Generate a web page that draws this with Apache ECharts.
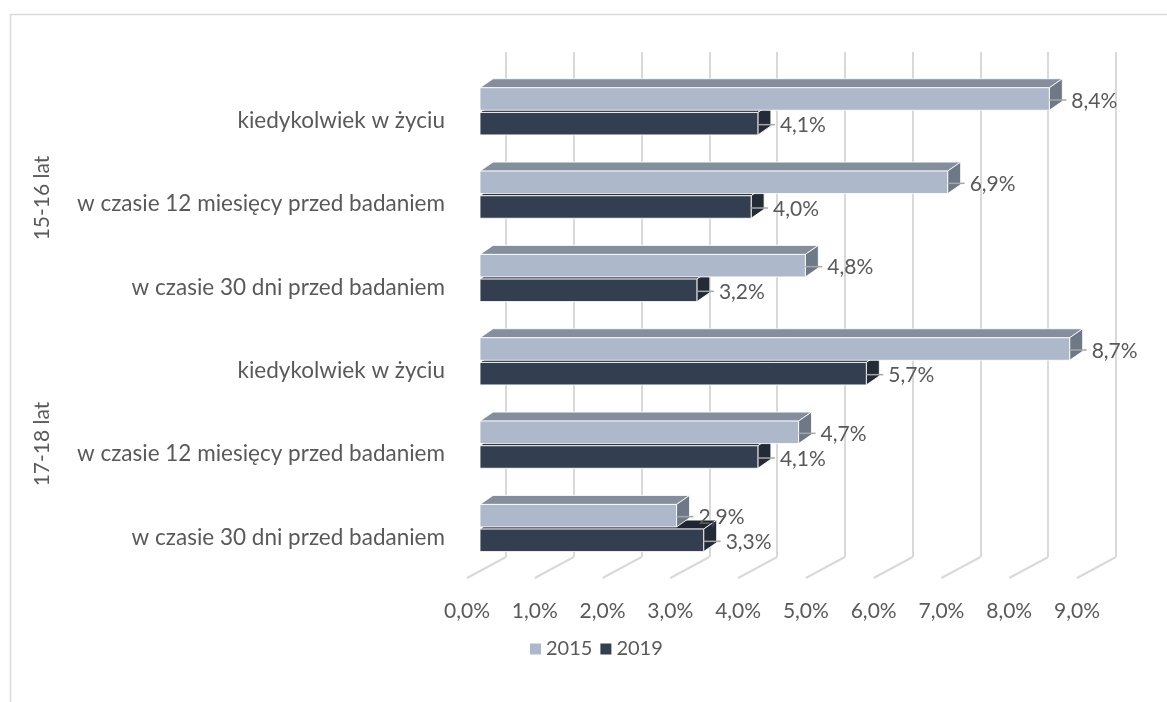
<!DOCTYPE html>
<html>
<head>
<meta charset="utf-8">
<script src="https://cdn.jsdelivr.net/npm/echarts@6/dist/echarts.min.js"></script>
<style>
html,body{margin:0;padding:0;background:#fff;}
#chart{width:1167px;height:702px;}
</style>
</head>
<body>
<div id="chart"></div>
<script>
const categories = [
  'kiedykolwiek w życiu',
  'w czasie 12 miesięcy przed badaniem',
  'w czasie 30 dni przed badaniem',
  'kiedykolwiek w życiu',
  'w czasie 12 miesięcy przed badaniem',
  'w czasie 30 dni przed badaniem'
];
const groups = ['15-16 lat', '17-18 lat'];
const seriesNames = ['2015', '2019'];
const values2015 = [8.4, 6.9, 4.8, 8.7, 4.7, 2.9];
const values2019 = [4.1, 4.0, 3.2, 5.7, 4.1, 3.3];
const xTicks = [0, 1, 2, 3, 4, 5, 6, 7, 8, 9];

const FONT = 'Lato';
const TXT = '#595959';
const GRID = '#d9d9d9';
const palette = {
  '2015': { front: '#adb9ca', top: '#848e9c', side: '#6e7988' },
  '2019': { front: '#333f50', top: '#1f2631', side: '#232b37' }
};
const fmt = v => v.toFixed(1).replace('.', ',') + '%';

function makeBarRenderer(name, slot) {
  const col = palette[name];
  return function (params, api) {
    const v = api.value(0), ci = api.value(1);
    const c = api.coord([0, ci]);
    const e = api.coord([v, ci]);
    const band = api.size([0, 1])[1];
    const h = band * 0.27, gap = band * 0.026;
    const y0 = c[1] - band * 0.395 + slot * (h + gap);
    const y1 = y0 + h;
    const x0 = c[0], x1 = e[0];
    const dx = 13, dy = 9;
    const yc = (y0 + y1) / 2;
    const edge = { stroke: 'rgba(255,255,255,0.85)', lineWidth: 1 };
    return {
      type: 'group',
      children: [
        { type: 'polygon', shape: { points: [[x0, y0], [x0 + dx, y0 - dy], [x1 + dx, y0 - dy], [x1, y0]] },
          style: Object.assign({ fill: col.top }, edge) },
        { type: 'polygon', shape: { points: [[x1, y0], [x1 + dx, y0 - dy], [x1 + dx, y1 - dy], [x1, y1]] },
          style: Object.assign({ fill: col.side }, edge) },
        { type: 'rect', shape: { x: x0, y: y0, width: x1 - x0, height: h },
          style: Object.assign({ fill: col.front }, edge) },
        { type: 'line', shape: { x1: x1, y1: yc + 1, x2: x1 + 17, y2: yc + 1 },
          style: { stroke: '#a6a6a6', lineWidth: 1.5 } },
        { type: 'text', x: x1 + 22, y: yc + 2,
          style: { text: fmt(v), fill: TXT, font: '21px ' + FONT, verticalAlign: 'middle', align: 'left' } }
      ]
    };
  };
}

const chart = echarts.init(document.getElementById('chart'));
chart.setOption({
  animation: false,
  backgroundColor: '#fff',
  graphic: [{
    type: 'rect', left: 8, top: 12, shape: { width: 1200, height: 720 },
    style: { fill: 'none', stroke: GRID, lineWidth: 1.5 }, z: -10, silent: true
  }],
  legend: {
    data: seriesNames, top: 634, left: 525, icon: 'rect',
    itemWidth: 11, itemHeight: 11, itemGap: 8,
    textStyle: { fontFamily: FONT, fontSize: 20, color: TXT }
  },
  grid: [
    { left: 480, top: 79, width: 610, height: 500 },   // bars (front plane)
    { left: 506, top: 52, width: 610, height: 505 },   // back wall gridlines
    { left: 467, top: 78, width: 610, height: 500 },   // floor labels
    { left: 480, top: 75, width: 610, height: 492 }    // group labels
  ],
  xAxis: [
    { type: 'value', gridIndex: 0, min: 0, max: 9, interval: 1, show: false },
    { type: 'value', gridIndex: 1, min: 0, max: 9, interval: 1,
      axisLabel: { show: false }, axisLine: { show: false }, axisTick: { show: false },
      splitLine: { show: true, lineStyle: { color: GRID, width: 2 } } },
    { type: 'value', gridIndex: 2, min: 0, max: 9, interval: 1,
      axisLine: { show: false }, axisTick: { show: false }, splitLine: { show: false },
      axisLabel: { margin: 23, fontFamily: FONT, fontSize: 21, color: TXT, formatter: v => fmt(v) } },
    { type: 'value', gridIndex: 3, min: 0, max: 9, show: false }
  ],
  yAxis: [
    { type: 'category', gridIndex: 0, data: categories, inverse: true,
      axisLine: { show: false }, axisTick: { show: false }, splitLine: { show: false },
      axisLabel: { margin: 35, fontFamily: FONT, fontSize: 22.5, color: TXT, interval: 0 } },
    { type: 'value', gridIndex: 1, min: 0, max: 1, show: false },
    { type: 'value', gridIndex: 2, min: 0, max: 1, show: false },
    { type: 'category', gridIndex: 3, data: groups, inverse: true,
      axisLine: { show: false }, axisTick: { show: false }, splitLine: { show: false },
      axisLabel: { rotate: 90, margin: 427, fontFamily: FONT, fontSize: 21, color: TXT, interval: 0 } }
  ],
  series: [
    { type: 'custom', name: 'floor', xAxisIndex: 1, yAxisIndex: 1, silent: true, z: 1,
      data: xTicks.map(t => [t, 0]),
      renderItem: function (params, api) {
        const p = api.coord([api.value(0), 0]);
        return { type: 'line', shape: { x1: p[0], y1: p[1], x2: p[0] - 39, y2: p[1] + 21 },
          style: { stroke: GRID, lineWidth: 2 } };
      } },
    { type: 'custom', name: '2019', xAxisIndex: 0, yAxisIndex: 0, z: 3,
      itemStyle: { color: palette['2019'].front },
      data: values2019.map((v, i) => [v, i]),
      renderItem: makeBarRenderer('2019', 1) },
    { type: 'custom', name: '2015', xAxisIndex: 0, yAxisIndex: 0, z: 4,
      itemStyle: { color: palette['2015'].front },
      data: values2015.map((v, i) => [v, i]),
      renderItem: makeBarRenderer('2015', 0) }
  ]
});
</script>
</body>
</html>
